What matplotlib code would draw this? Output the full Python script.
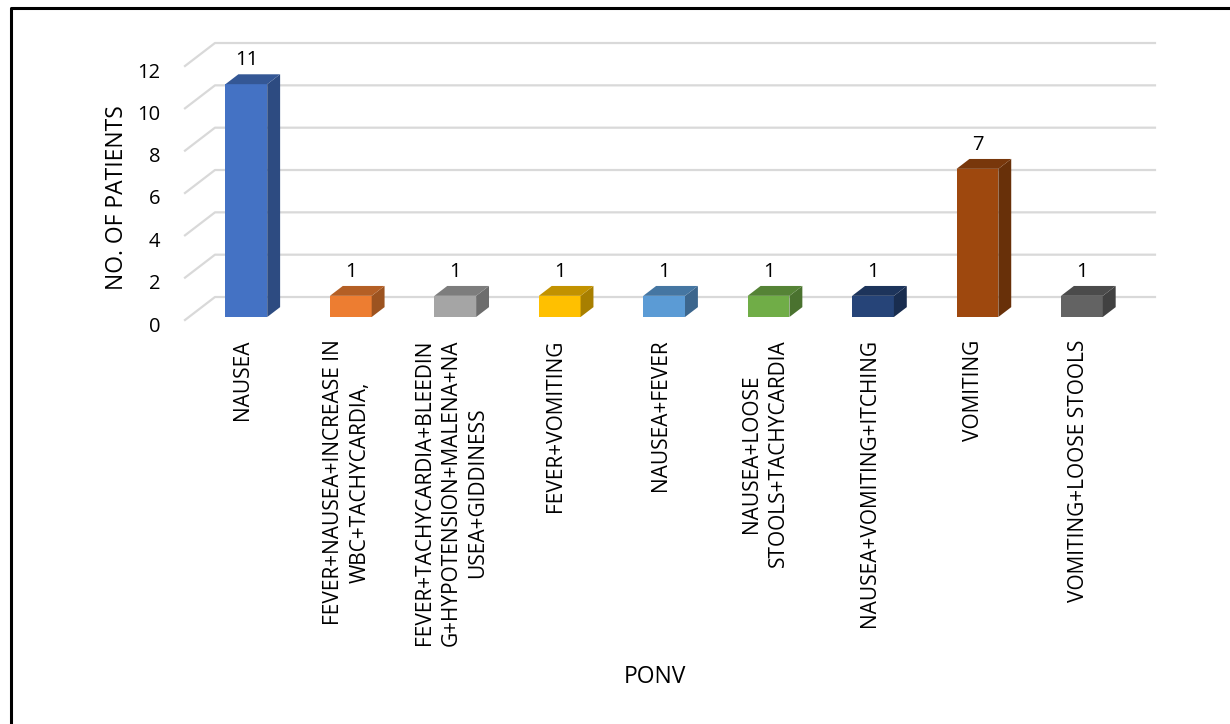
import matplotlib.pyplot as plt
import matplotlib.colors as mcolors
from matplotlib.patches import Polygon, Rectangle
from matplotlib.lines import Line2D
from matplotlib.transforms import ScaledTranslation

plt.rcParams['font.family'] = ['Open Sans', 'DejaVu Sans']

# PONV categories and patient counts
categories = [
    "NAUSEA",
    "FEVER+NAUSEA+INCREASE IN\nWBC+TACHYCARDIA,",
    "FEVER+TACHYCARDIA+BLEEDIN\nG+HYPOTENSION+MALENA+NA\nUSEA+GIDDINESS",
    "FEVER+VOMITING",
    "NAUSEA+FEVER",
    "NAUSEA+LOOSE\nSTOOLS+TACHYCARDIA",
    "NAUSEA+VOMITING+ITCHING",
    "VOMITING",
    "VOMITING+LOOSE STOOLS",
]
patients = [11, 1, 1, 1, 1, 1, 1, 7, 1]
bar_colors = ["#4472C4", "#ED7D31", "#A5A5A5", "#FFC000", "#5B9BD5",
              "#70AD47", "#264478", "#9E480E", "#636363"]
y_ticks = [0, 2, 4, 6, 8, 10, 12]

# oblique "3D" offsets: full depth of the back wall in data units
DX, DY = 0.287, 1.086
F_FRONT, F_BACK = 0.13, 0.56
BAR_W = 0.40
X0, X1 = -0.55, 8.45


def shade(c, k):
    r, g, b = mcolors.to_rgb(c)
    return (r * k, g * k, b * k)


fig = plt.figure(figsize=(12.3, 7.24), dpi=100)
ax = fig.add_axes([185 / 1230, 404 / 724, 940 / 1230, 254 / 724])
ax.set_xlim(X0, X1)
ax.set_ylim(0, 12)

# back wall gridlines plus the slanted left edge
for t in y_ticks:
    ax.add_line(Line2D([X0, X0 + DX, X1 + DX], [t, t + DY, t + DY],
                       color="#D9D9D9", lw=1.6, zorder=1, clip_on=False))

# bars: front face, side face, top face
for i, (v, c) in enumerate(zip(patients, bar_colors)):
    xl = i - BAR_W / 2 + DX * F_FRONT
    xr = xl + BAR_W
    yb = DY * F_FRONT
    yt = v + yb
    ddx = DX * (F_BACK - F_FRONT)
    ddy = DY * (F_BACK - F_FRONT)
    ax.add_patch(Rectangle((xl, yb), BAR_W, v, facecolor=c, edgecolor="none",
                           zorder=3, clip_on=False))
    ax.add_patch(Polygon([(xr, yb), (xr + ddx, yb + ddy), (xr + ddx, yt + ddy), (xr, yt)],
                         closed=True, facecolor=shade(c, 0.66), edgecolor="none",
                         zorder=3, clip_on=False))
    ax.add_patch(Polygon([(xl, yt), (xr, yt), (xr + ddx, yt + ddy), (xl + ddx, yt + ddy)],
                         closed=True, facecolor=shade(c, 0.76), edgecolor="none",
                         zorder=3, clip_on=False))
    ax.annotate(str(v), (i + DX * F_FRONT, yt + ddy), xytext=(0, 3),
                textcoords="offset points", ha="center", va="bottom",
                fontsize=14.5, color="#000000", zorder=4, annotation_clip=False)

ax.set_yticks(y_ticks)
ax.set_xticks(range(len(categories)))
ax.set_xticklabels(categories, rotation=90, fontsize=15, linespacing=1.35,
                   multialignment="center")
ax.tick_params(axis="y", length=0, pad=18, labelsize=14.5)
ax.tick_params(axis="x", length=0, pad=14)
# nudge the value labels a little below their gridline ends
shift = ScaledTranslation(0, -4 / 100, fig.dpi_scale_trans)
for lbl in ax.get_yticklabels():
    lbl.set_transform(lbl.get_transform() + shift)
for s in ax.spines.values():
    s.set_visible(False)
ax.patch.set_visible(False)

ax.set_ylabel("NO. OF PATIENTS", fontsize=16.5)
ax.yaxis.label.set_va("center")
ax.yaxis.set_label_coords(-0.072, 0.48)
ax.set_xlabel("PONV", fontsize=16.5)
ax.xaxis.label.set_va("center")
ax.xaxis.set_label_coords(0.5, -1.405)

# outer frame (left and top edges)
fig.add_artist(Line2D([11 / 1230, 11 / 1230, 1.0], [0.0, 1 - 8 / 724, 1 - 8 / 724],
                      color="black", lw=2.2, transform=fig.transFigure))

fig.savefig("out.png", dpi=100)
